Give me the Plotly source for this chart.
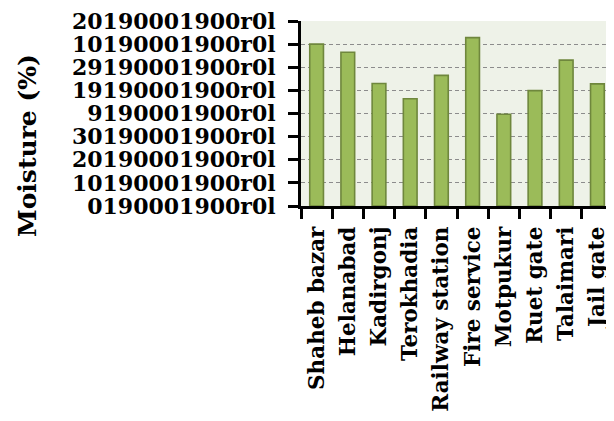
import plotly.graph_objects as go

categories = ["Shaheb bazar", "Helanabad", "Kadirgonj", "Terokhadia", "Railway station",
              "Fire service", "Motpukur", "Ruet gate", "Talaimari", "Jail gate"]
moisture = [7.0, 6.65, 5.3, 4.64, 5.65, 7.28, 3.97, 4.99, 6.31, 5.28]
tick_vals = [0, 1, 2, 3, 4, 5, 6, 7, 8]
tick_text = ["0190001900r0l", "10190001900r0l", "20190001900r0l", "30190001900r0l",
             "9190001900r0l", "19190001900r0l", "29190001900r0l", "10190001900r0l",
             "20190001900r0l"]

FONT = "DejaVu Serif"

# page body has an 8px default margin; size the figure so it fills the window exactly
fig = go.Figure(go.Bar(
    x=categories, y=moisture,
    marker=dict(color="#9BBB59", line=dict(color="#6F873D", width=1.6)),
))

fig.update_layout(
    width=606, height=413,
    margin=dict(l=293, r=1, t=13, b=215),
    paper_bgcolor="white",
    plot_bgcolor="#EEF2E8",
    showlegend=False,
    font=dict(family=FONT, color="black", weight="bold"),
    bargap=0.56,
)

fig.update_xaxes(
    showline=True, linecolor="black", linewidth=3,
    ticks="outside", ticklen=10, tickwidth=3, tickcolor="black",
    tickson="boundaries",
    tickangle=-90,
    ticklabelstandoff=9,
    ticklabeloverflow="allow",
    tickfont=dict(family=FONT, size=21.5, color="black", weight="bold"),
    showgrid=False,
)

fig.update_yaxes(
    range=[0, 8],
    tickvals=tick_vals, ticktext=tick_text,
    showline=True, linecolor="black", linewidth=3,
    ticks="outside", ticklen=10, tickwidth=3, tickcolor="black",
    ticklabelstandoff=8,
    ticklabeloverflow="allow",
    tickfont=dict(family=FONT, size=22, color="black", weight="bold"),
    showgrid=True, gridcolor="#8C8C8C", griddash="4px,3px", gridwidth=1,
    zeroline=False,
)

fig.add_annotation(
    text="Moisture (%)", textangle=-90,
    xref="paper", yref="paper",
    x=-(301 - 27) / 312.0, y=(206 - 146) / 185.0,
    xanchor="center", yanchor="middle",
    showarrow=False,
    font=dict(family=FONT, size=25, color="black", weight="bold"),
)

fig.write_html("out.html")
